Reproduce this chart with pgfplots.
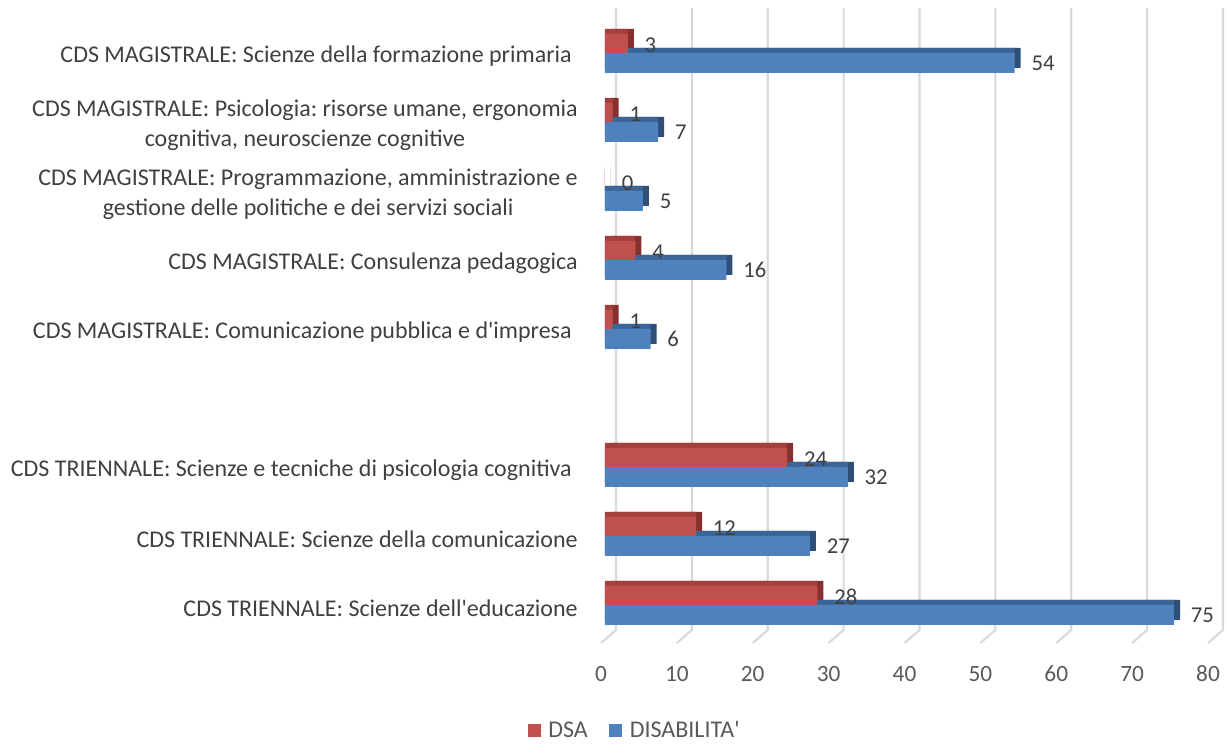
\documentclass[border=0pt]{standalone}
\usepackage{fontspec}
\setmainfont{Carlito}
\usepackage{pgfplots}
\pgfplotsset{compat=1.18}
\definecolor{dsared}{HTML}{C0504D}
\definecolor{dsatop}{HTML}{A33F3C}
\definecolor{dsaside}{HTML}{86312F}
\definecolor{disblue}{HTML}{4F81BD}
\definecolor{distop}{HTML}{3C6597}
\definecolor{disside}{HTML}{2E5078}
\definecolor{labgray}{HTML}{404040}
\definecolor{tickgray}{HTML}{595959}
\definecolor{gridgray}{HTML}{D9D9D9}
\frenchspacing
\begin{document}
\frenchspacing
\begin{tikzpicture}
\begin{axis}[
  scale only axis,
  width=455.25pt, height=476.25pt,
  xmin=0, xmax=80, ymin=-0.551, ymax=8.652,
  clip=false,
  axis line style={draw=none},
  major tick style={draw=none},
  xtick={0,10,...,80},
  ytick={0,1,2,4,5,6,7,8},
  yticklabels={
    CDS TRIENNALE: Scienze dell\textquotesingle educazione,
    CDS TRIENNALE: Scienze della comunicazione,
    CDS TRIENNALE: Scienze e tecniche di psicologia cognitiva\kern4.5pt,
    CDS MAGISTRALE: Comunicazione pubblica e d\textquotesingle impresa\kern4.5pt,
    CDS MAGISTRALE: Consulenza pedagogica,
    {CDS MAGISTRALE: Programmazione, amministrazione e\\gestione delle politiche e dei servizi sociali},
    {CDS MAGISTRALE: Psicologia: risorse umane, ergonomia\\cognitiva, neuroscienze cognitive},
    CDS MAGISTRALE: Scienze della formazione primaria\kern4.5pt
  },
  /pgf/number format/assume math mode=true,
  xticklabel style={font=\fontsize{17.5}{20}\selectfont, text=tickgray, anchor=base, inner sep=0pt, yshift=-28.9pt, xshift=-3pt},
  yticklabel style={font=\fontsize{18}{22.5}\selectfont, text=labgray, align=center, anchor=east, inner sep=0pt, xshift=-20.25pt, yshift=-2.25pt},
  legend columns=2,
  legend style={draw=none, fill=none, at={(0.0494,-0.1375)}, anchor=center,
    font=\fontsize{18}{20}\selectfont, text=tickgray,
    /tikz/every even column/.append style={column sep=14pt}},
  legend image code/.code={\fill[#1] (0pt,-4.9pt) rectangle (9.75pt,4.9pt); \path (0pt,0pt) -- (13.5pt,0pt);},
]
\addlegendimage{fill=dsared, draw=none}
\addlegendentry{DSA}
\addlegendimage{fill=disblue, draw=none}
\addlegendentry{DISABILITA\textquotesingle}

\pgfplotsinvokeforeach{0,10,20,30,40,50,60,70,80}{
  \draw[gridgray, line width=1.6pt] ([xshift=-3pt]axis cs:#1,-0.551) -- ([xshift=8.25pt]axis cs:#1,-0.362) -- ([xshift=8.25pt]axis cs:#1,8.652);
}

% DISABILITA'
\addplot[xbar, bar width=15pt, bar shift=-7.5pt, fill=disside, draw=none, xshift=4.5pt, yshift=3.75pt, forget plot]
  coordinates {(75,0) (27,1) (32,2) (6,4) (16,5) (5,6) (7,7) (54,8)};
\addplot[xbar, bar width=15pt, bar shift=-7.5pt, fill=distop, draw=none, yshift=3.75pt, forget plot]
  coordinates {(75,0) (27,1) (32,2) (6,4) (16,5) (5,6) (7,7) (54,8)};
\addplot[xbar, bar width=15pt, bar shift=-7.5pt, fill=disblue, draw=none, forget plot,
  point meta=x, nodes near coords,
  every node near coord/.append style={font=\fontsize{17}{20}\selectfont, text=labgray, anchor=west, inner sep=0pt, xshift=12.5pt, yshift=-7.8pt}]
  coordinates {(75,0) (27,1) (32,2) (6,4) (16,5) (5,6) (7,7) (54,8)};

% DSA
\addplot[xbar, bar width=14.25pt, bar shift=7.125pt, fill=dsaside, draw=none, xshift=4.5pt, yshift=3.75pt, forget plot]
  coordinates {(28,0) (12,1) (24,2) (1,4) (4,5) (0,6) (1,7) (3,8)};
\addplot[xbar, bar width=14.25pt, bar shift=7.125pt, fill=dsatop, draw=none, yshift=3.75pt, forget plot]
  coordinates {(28,0) (12,1) (24,2) (1,4) (4,5) (0,6) (1,7) (3,8)};
\addplot[xbar, bar width=14.25pt, bar shift=7.125pt, fill=dsared, draw=none, forget plot,
  point meta=x, nodes near coords,
  every node near coord/.append style={font=\fontsize{17}{20}\selectfont, text=labgray, anchor=west, inner sep=0pt, xshift=12.5pt, yshift=6pt}]
  coordinates {(28,0) (12,1) (24,2) (1,4) (4,5) (0,6) (1,7) (3,8)};
\end{axis}
\pgfresetboundingbox
\path (current axis.south west) ++(-453.75pt,-75.75pt) rectangle ++(921pt,558pt);
\end{tikzpicture}
\end{document}
